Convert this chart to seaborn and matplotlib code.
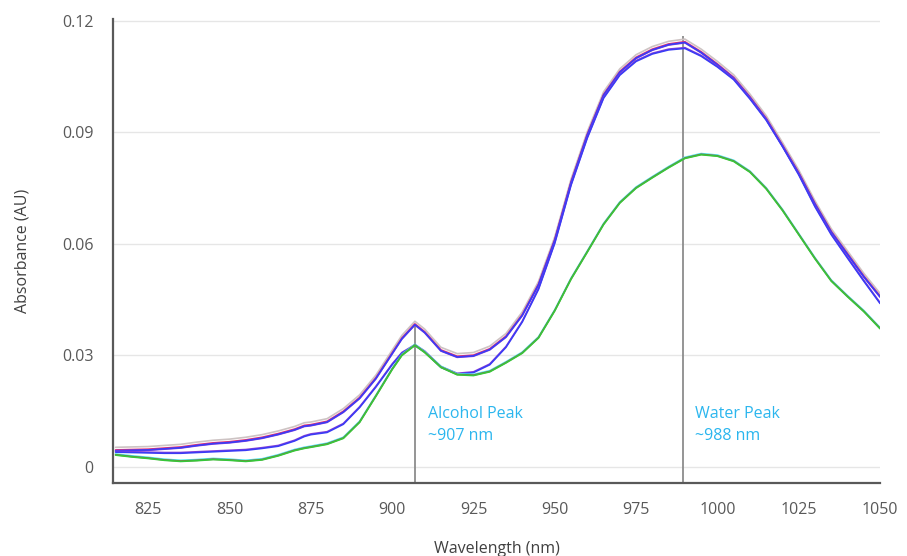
import numpy as np
import pandas as pd
import matplotlib
matplotlib.use("Agg")
import matplotlib.pyplot as plt
import seaborn as sns

# ---------------- data ----------------
wavelength = [815, 820, 825, 830, 835, 840, 845, 850, 855, 860, 865, 870, 873, 875,
              880, 885, 890, 895, 900, 903, 907, 910, 915, 920, 925, 930, 935, 940,
              945, 950, 955, 960, 965, 970, 975, 980, 985, 990, 995, 1000, 1005,
              1010, 1015, 1020, 1025, 1030, 1035, 1040, 1045, 1050]

# upper group (high alcohol peak)
group_a = [0.0044, 0.0045, 0.0046, 0.0049, 0.0052, 0.0058, 0.0063, 0.0066, 0.0071,
           0.0078, 0.0088, 0.0100, 0.0110, 0.0112, 0.0121, 0.0148, 0.0185, 0.0238,
           0.0305, 0.0345, 0.0383, 0.0362, 0.0313, 0.0296, 0.0299, 0.0316, 0.0350,
           0.0408, 0.0490, 0.0610, 0.0765, 0.0893, 0.1000, 0.1062, 0.1100, 0.1122,
           0.1136, 0.1142, 0.1115, 0.1082, 0.1046, 0.0994, 0.0936, 0.0864, 0.0790,
           0.0707, 0.0632, 0.0572, 0.0512, 0.0458]

# middle group (low alcohol peak, high water peak)
group_b = [0.0040, 0.0039, 0.0038, 0.0037, 0.0037, 0.0039, 0.0041, 0.0043, 0.0045,
           0.0050, 0.0056, 0.0070, 0.0082, 0.0087, 0.0093, 0.0115, 0.0160, 0.0215,
           0.0275, 0.0306, 0.0327, 0.0310, 0.0268, 0.0250, 0.0254, 0.0275, 0.0322,
           0.0390, 0.0478, 0.0602, 0.0758, 0.0885, 0.0992, 0.1054, 0.1091, 0.1111,
           0.1122, 0.1126, 0.1105, 0.1076, 0.1042, 0.0990, 0.0933, 0.0862, 0.0786,
           0.0700, 0.0625, 0.0562, 0.0500, 0.0440]

# lower group (low alcohol peak, low water peak)
group_c = [0.0032, 0.0027, 0.0023, 0.0018, 0.0015, 0.0017, 0.0020, 0.0018, 0.0015,
           0.0019, 0.0030, 0.0044, 0.0050, 0.0053, 0.0061, 0.0077, 0.0120, 0.0190,
           0.0262, 0.0300, 0.0327, 0.0308, 0.0268, 0.0248, 0.0246, 0.0256, 0.0280,
           0.0306, 0.0347, 0.0420, 0.0505, 0.0578, 0.0652, 0.0710, 0.0750, 0.0778,
           0.0805, 0.0830, 0.0840, 0.0836, 0.0822, 0.0793, 0.0748, 0.0690, 0.0625,
           0.0560, 0.0500, 0.0458, 0.0418, 0.0372]

# replicate traces: name, group, small vertical spread
series_names = ["A gray", "A red", "A purple", "A blue",
                "B purple", "B blue",
                "C cyan", "C brown", "C green"]
series_group = ["A", "A", "A", "A", "B", "B", "C", "C", "C"]
series_shift = [0.0009, 0.0002, -0.0001, 0.0000, 0.0002, 0.0000, 0.0003, 0.0001, 0.0000]
series_colors = ["#cdc3c3", "#e8326e", "#8a3fd6", "#3b3bf5",
                 "#8a3fd6", "#3b3bf5",
                 "#40e8e8", "#9a5a3a", "#35c83a"]

peak_positions = [907, 989.5]
peak_tops = [0.0385, 0.1160]
peak_labels = ["Alcohol Peak\n~907 nm", "Water Peak\n~988 nm"]

x_ticks = [825, 850, 875, 900, 925, 950, 975, 1000, 1025, 1050]
y_ticks = [0, 0.03, 0.06, 0.09, 0.12]
y_tick_labels = ["0", "0.03", "0.06", "0.09", "0.12"]

# ---------------- build long table ----------------
groups = {"A": group_a, "B": group_b, "C": group_c}
rows = []
for name, g, s in zip(series_names, series_group, series_shift):
    for w, v in zip(wavelength, groups[g]):
        rows.append({"wavelength": w, "absorbance": v + s, "series": name})
df = pd.DataFrame(rows)

# ---------------- plot ----------------
sns.set_style("white")
plt.rcParams["font.family"] = ["Open Sans", "DejaVu Sans"]

fig = plt.figure(figsize=(9.07, 5.56), dpi=100)
ax = fig.add_axes([0.1246, 0.1313, 0.8457, 0.8345])

for yt in y_ticks:
    ax.axhline(yt, color="#e6e6e6", lw=1.0, zorder=0)

ymin = -0.0043
for xp, top in zip(peak_positions, peak_tops):
    ax.vlines(xp, ymin, top, color="#8c8c8c", lw=1.3, zorder=1)

sns.lineplot(data=df, x="wavelength", y="absorbance", hue="series",
             hue_order=series_names, palette=dict(zip(series_names, series_colors)),
             linewidth=1.2, legend=False, ax=ax, zorder=2, estimator=None, sort=False)

text_color = "#2bb6ee"
ax.text(911, 0.0165, peak_labels[0], color=text_color, fontsize=11.5,
        va="top", ha="left", linespacing=1.55)
ax.text(993, 0.0165, peak_labels[1], color=text_color, fontsize=11.5,
        va="top", ha="left", linespacing=1.55)

ax.set_xlim(814.2, 1050)
ax.set_ylim(ymin, 0.1205)
ax.set_xticks(x_ticks)
ax.set_yticks(y_ticks)
ax.set_yticklabels(y_tick_labels)

for side in ["top", "right"]:
    ax.spines[side].set_visible(False)
for side in ["left", "bottom"]:
    ax.spines[side].set_color("#595959")
    ax.spines[side].set_linewidth(1.6)

ax.tick_params(axis="both", direction="out", length=5, width=1.3,
               color="#595959", labelcolor="#595959", labelsize=11.5)
ax.tick_params(axis="x", pad=9)
ax.tick_params(axis="y", pad=9)
ax.set_xlabel("Wavelength (nm)", fontsize=11.5, color="#404040", labelpad=16)
ax.set_ylabel("Absorbance (AU)", fontsize=11.5, color="#404040", labelpad=23)

fig.savefig("out.png", dpi=100, facecolor="white")
